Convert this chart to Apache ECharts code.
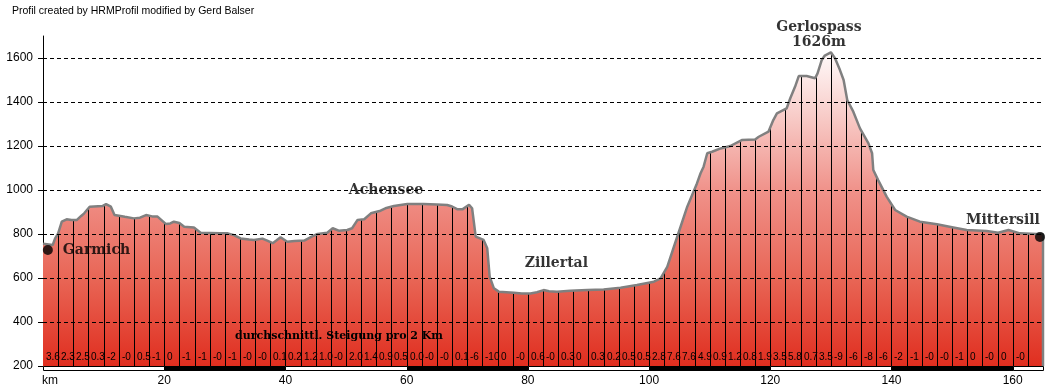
<!DOCTYPE html>
<html><head><meta charset="utf-8">
<script src="https://cdn.jsdelivr.net/npm/echarts@6/dist/echarts.min.js"></script>
<style>html,body{margin:0;padding:0;background:#fff}#c{width:1049px;height:391px}</style>
</head><body><div id="c"></div>
<script>
// elevation profile (km, m)
const profileKm = [0,1.6,2.0,2.5,3.1,3.9,4.7,5.6,6.3,6.8,7.7,9.8,10.4,11.2,11.8,13.5,15.0,16.0,17.0,18.0,18.9,20.3,21.0,21.6,22.5,23.3,24.9,26.0,27.5,29.3,30.5,31.5,32.6,34.0,34.8,36.2,37.0,37.9,38.5,39.2,40.3,41.5,43.1,44.5,45.3,46.9,47.8,48.8,50.2,51.0,51.9,53.0,54.1,55.7,56.5,57.9,60.1,62.8,65.0,66.7,67.5,68.4,69.2,70.3,70.8,71.4,72.7,73.3,73.7,74.4,75.2,77.7,79.0,80.4,81.5,82.6,83.5,84.8,87.0,89.8,92.5,95.3,98.0,100.8,101.9,103.0,104.1,105.2,106.3,107.9,108.5,109.0,109.6,110.4,111.8,113.4,115.3,117.5,118.1,119.7,120.5,121.1,122.7,123.3,124.1,124.7,126.0,127.4,127.8,128.5,129.0,130.0,130.7,131.5,132.1,132.7,133.7,134.8,136.2,136.8,137.0,137.8,139.2,140.6,142.5,144.7,147.5,150.2,152.4,155.7,157.6,159.3,161.2,164.0,165,165];
const profileElev = [756,750,780,803,856,867,864,864,882,894,924,927,936,924,886,878,871,874,886,880,879,845,848,856,850,833,830,806,805,803,803,795,780,775,773,779,770,758,770,785,765,768,770,790,800,806,826,815,818,826,864,867,894,906,917,927,936,936,934,932,925,912,912,933,917,788,773,735,606,553,538,533,530,530,535,545,540,538,542,545,548,556,568,583,598,651,742,833,924,1030,1076,1106,1167,1174,1189,1200,1227,1230,1242,1265,1318,1348,1371,1417,1470,1518,1518,1508,1530,1591,1611,1626,1598,1545,1500,1409,1356,1280,1212,1167,1091,1045,970,909,879,856,844,830,818,814,806,818,803,800,800,200];

// average gradient per segment
const segmentKm = 2.5;
const gradientLabels = ['3.6','2.3','2.5','0.3','-2','-0','0.5','-1','0','-1','-1','-0','-1','-0','-0','0.1','0.2','1.2','1.0','-0','2.0','1.4','0.9','0.5','0.0','-0','-0','0.1','-6','-10','0','-0','0.6','-0','0.3','0','0.3','0.2','0.5','0.5','2.8','7.6','7.6','4.9','0.9','1.2','0.8','1.9','3.5','5.8','0.7','3.5','-9','-6','-8','-6','-2','-1','-0','-0','-1','0','-0','0','-0',''];

const yTicks = [200,400,600,800,1000,1200,1400,1600];
const gridValues = [400,600,800,1000,1200,1400,1600];
const xTicks = [0,20,40,60,80,100,120,140,160];
const scaleStops = [0,20,40,60,80,100,120,140,160,165];

const placeNames = ['Garmich','Achensee','Zillertal','Gerlospass\n1626m','Mittersill'];
const placeKm = [0.8,56.6,84.7,130,164.5];
const placeElev = [727,1000,668,1626,786];
const placeDot = [true,false,false,false,true];

const BASE = 200;
function elevAt(km){
  for(let i=1;i<profileKm.length;i++){
    if(profileKm[i]>=km){
      const k0=profileKm[i-1],k1=profileKm[i];
      const t=k1===k0?0:(km-k0)/(k1-k0);
      return profileElev[i-1]+(profileElev[i]-profileElev[i-1])*t;
    }
  }
  return profileElev[profileElev.length-1];
}

const profileData = profileKm.map((k,i)=>[k,profileElev[i]]);
const boundaryData = gradientLabels.slice(1).map((_,i)=>{const km=(i+1)*segmentKm; return [km, elevAt(km)];});
const labelData = gradientLabels.map((t,i)=>[i*segmentKm, BASE]);
const scaleData = scaleStops.slice(0,-1).map((s,i)=>[s, scaleStops[i+1], i%2]);

const labelStyles = [
  {position:'right', distance:10},
  {position:'inside'},
  {position:'inside'},
  {position:'top', distance:2, offset:[-12,0], lineHeight:15},
  {position:'inside', offset:[-37,-17]}
];
const placeData = placeNames.map((n,i)=>({
  value:[placeKm[i],placeElev[i]], name:n,
  symbolSize: placeDot[i]?10:0,
  label: labelStyles[i]
}));

const chart = echarts.init(document.getElementById('c'), null, {renderer:'canvas'});
chart.setOption({
  animation:false,
  backgroundColor:'#fff',
  grid:{left:43,right:6,top:36,bottom:25,containLabel:false,outerBoundsMode:'none'},
  xAxis:{type:'value',min:0,max:165,interval:20,
    axisLine:{show:false},axisTick:{show:false},splitLine:{show:false},
    axisLabel:{customValues:xTicks,color:'#000',fontFamily:'Liberation Sans',fontSize:12,margin:9,
      formatter:v=>v===0?'{km|km}':(v>160?'':String(v)),
      rich:{km:{fontFamily:'Liberation Sans',fontSize:12,color:'#000',padding:[0,0,0,14]}}}},
  yAxis:{type:'value',min:200,max:1700,interval:200,
    axisLine:{show:true,lineStyle:{color:'#000',width:1}},
    axisTick:{show:true,length:5,customValues:yTicks,lineStyle:{color:'#000'}},
    splitLine:{show:false},
    axisLabel:{customValues:yTicks,color:'#000',fontFamily:'Liberation Sans',fontSize:12,margin:10,
      formatter:v=>v>1600?'':String(v)}},
  graphic:[
    {type:'text',left:12,top:6,style:{text:'Profil created by HRMProfil modified by Gerd Balser',font:'10.5px "Liberation Sans"',fill:'#000'}},
    {type:'text',x:339,y:336,style:{text:'durchschnittl. Steigung pro 2 Km',font:'bold 11px "DejaVu Serif"',fill:'#000',align:'center',verticalAlign:'middle'},z:20}
  ],
  series:[
    {type:'line',data:profileData,symbol:'none',z:1,lineStyle:{width:0},
      areaStyle:{opacity:1,color:new echarts.graphic.LinearGradient(0,0,0,1,[
        {offset:0,color:'#fffafa'},{offset:0.16,color:'#f9d6d3'},{offset:0.44,color:'#f0928a'},
        {offset:0.73,color:'#e86454'},{offset:1,color:'#e02e1f'}])}},
    {type:'custom',z:2,data:boundaryData,clip:false,
      renderItem:(p,api)=>{
        const top=api.coord([api.value(0),api.value(1)]);
        const bot=api.coord([api.value(0),BASE]);
        const x=Math.round(top[0])+0.5;
        return {type:'line',shape:{x1:x,y1:top[1],x2:x,y2:bot[1]},style:{stroke:'#000',lineWidth:1}};
      }},
    {type:'line',data:profileData,symbol:'none',z:3,lineStyle:{color:'#808080',width:2.5},
      markLine:{silent:true,symbol:'none',label:{show:false},animation:false,
        lineStyle:{color:'#000',type:[4,3],width:1},
        data:gridValues.map(v=>({yAxis:v}))}},
    {type:'custom',z:4,data:labelData,clip:false,
      renderItem:(p,api)=>{
        const pt=api.coord([api.value(0),BASE]);
        return {type:'text',x:Math.round(pt[0])+3,y:pt[1]-9,
          style:{text:gradientLabels[p.dataIndex],fill:'#000',font:'10px "Liberation Sans"',align:'left',verticalAlign:'middle'}};
      }},
    {type:'custom',z:5,data:scaleData,clip:false,encode:{x:[0,1]},
      renderItem:(p,api)=>{
        const a=api.coord([api.value(0),BASE]);
        const b=api.coord([api.value(1),BASE]);
        return {type:'rect',shape:{x:Math.round(a[0])+0.5,y:Math.round(a[1])+0.5,width:Math.round(b[0])-Math.round(a[0]),height:4},
          style:{fill:api.value(2)?'#000':'#fff',stroke:'#000',lineWidth:1}};
      }},
    {type:'scatter',z:6,data:placeData,symbol:'circle',itemStyle:{color:'#000'},clip:false,
      label:{show:true,formatter:p=>p.name,color:'#000',fontFamily:'DejaVu Serif',fontWeight:'bold',fontSize:14}}
  ]
});
</script></body></html>
